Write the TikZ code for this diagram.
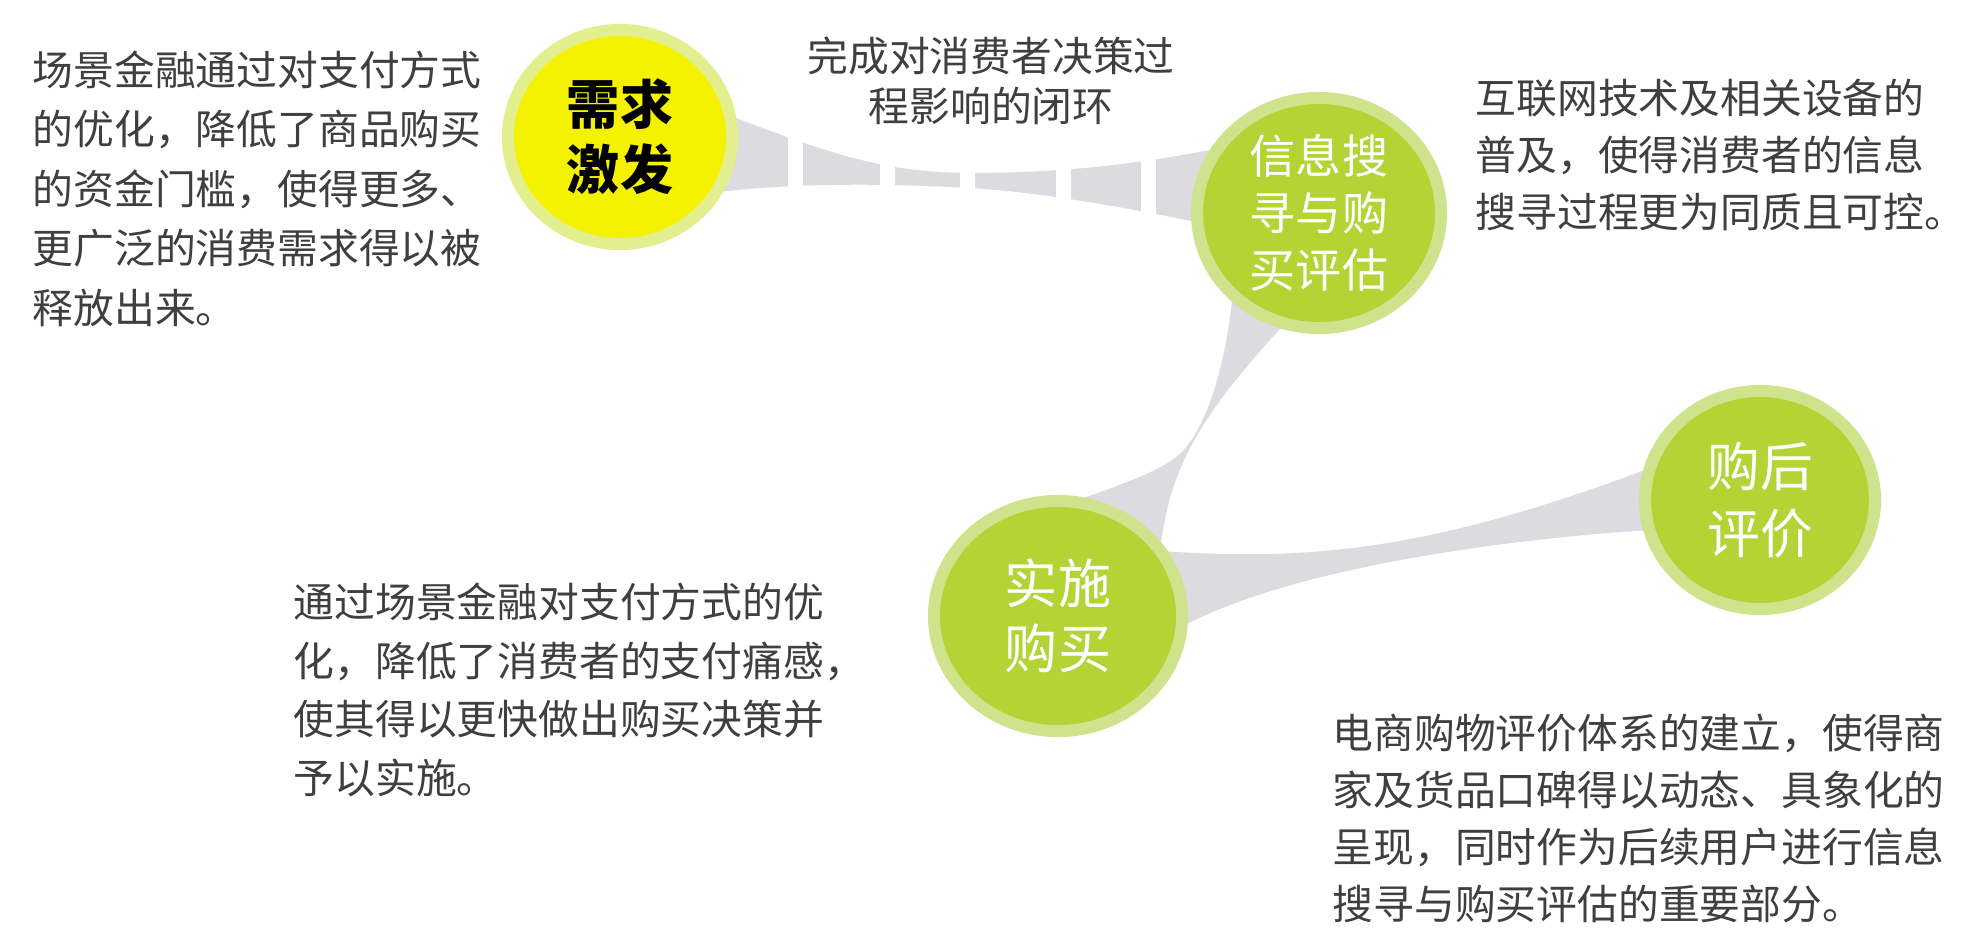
\documentclass[tikz,border=0pt]{standalone}
\usepackage{fontspec}
\setmainfont{Noto Sans CJK SC}
\usetikzlibrary{shapes.geometric,calc}

\definecolor{lime}{HTML}{B4D334}
\definecolor{limering}{HTML}{CFE38C}
\definecolor{yolk}{HTML}{F5F200}
\definecolor{yolkring}{HTML}{E3EE8E}
\definecolor{bandgray}{HTML}{DCDBDF}
\definecolor{txtgray}{HTML}{3F3F3F}

\pgfdeclarelayer{bg}
\pgfsetlayers{bg,main}

\tikzset{
    stage/.style={ellipse,inner sep=0pt,line width=0.12cm,draw=limering,fill=lime,
        text=white,align=center,font=\fontsize{15.1}{18.5}\selectfont},
    note/.style={inner sep=0pt,text=txtgray,align=left,font=\fontsize{11.6}{16.9}\selectfont},
    band/.style={fill=bandgray}
}

\begin{document}
\begin{tikzpicture}[x=0.01cm,y=-0.01cm]
    \begin{pgfonlayer}{bg}
        \fill[white] (0,0) rectangle (1980,951);
    \end{pgfonlayer}
    \useasboundingbox (0,0) rectangle (1980,951);

    % stages
    \node[stage,draw=yolkring,fill=yolk,text=black,font=\fontsize{15.1}{18.5}\selectfont\bfseries,
        minimum width=2.24cm,minimum height=2.14cm] (demand) at (620,137) {需求\\激发};
    \node[stage,font=\fontsize{13.1}{16.2}\selectfont,
        minimum width=2.44cm,minimum height=2.30cm] (search) at (1319,213) {信息搜\\寻与购\\买评估};
    \node[stage,minimum width=2.48cm,minimum height=2.30cm] (purchase) at (1058,616) {实施\\购买};
    \node[stage,font=\fontsize{15}{19}\selectfont,
        minimum width=2.30cm,minimum height=2.18cm] (review) at (1760,500) {购后\\评价};

    % tapered links
    \begin{pgfonlayer}{bg}
        \begin{scope}
            \clip (demand.center) -- (720,112) .. controls (820,150) and (880,173) .. (970,173)
                .. controls (1060,173) and (1130,165) .. (1210,150) -- (search.center)
                -- (1210,225) .. controls (1130,208) and (1040,192) .. (970,188)
                .. controls (900,184) and (800,182) .. (720,192) -- cycle;
            \foreach \a/\b in {600/788,803/880,895/960,975/1056,1071/1141,1156/1340} {
                \fill[band] (\a,80) rectangle (\b,260);
            }
        \end{scope}
        \fill[band] (search.center) -- (1290,318) .. controls (1195,420) and (1170,470) .. (1160,550)
            -- (purchase.center) -- (1070,503) .. controls (1110,488) and (1150,476) .. (1175,458)
            .. controls (1200,440) and (1225,380) .. (1233,290) -- cycle;
        \fill[band] (purchase.center) -- (1160,551) .. controls (1300,560) and (1420,555) .. (1650,468)
            -- (review.center) -- (1650,530) .. controls (1520,538) and (1300,565) .. (1185,625) -- cycle;
    \end{pgfonlayer}

    % notes
    \node[note,anchor=north west] (demandtxt) at (32,50)
        {场景金融通过对支付方式\\的优化，降低了商品购买\\的资金门槛，使得更多、\\更广泛的消费需求得以被\\释放出来。};
    \node[note,align=center,anchor=north,font=\fontsize{11.6}{14.2}\selectfont] (looptxt) at (991,36)
        {完成对消费者决策过\\程影响的闭环};
    \node[note,anchor=north west,font=\fontsize{11.6}{16.2}\selectfont] (searchtxt) at (1475,78)
        {互联网技术及相关设备的\\普及，使得消费者的信息\\搜寻过程更为同质且可控。};
    \node[note,anchor=north west,font=\fontsize{11.6}{16.7}\selectfont] (purchasetxt) at (293,582)
        {通过场景金融对支付方式的优\\化，降低了消费者的支付痛感，\\使其得以更快做出购买决策并\\予以实施。};
    \node[note,anchor=north west,font=\fontsize{11.6}{16.2}\selectfont] (reviewtxt) at (1332,713)
        {电商购物评价体系的建立，使得商\\家及货品口碑得以动态、具象化的\\呈现，同时作为后续用户进行信息\\搜寻与购买评估的重要部分。};
\end{tikzpicture}
\end{document}
